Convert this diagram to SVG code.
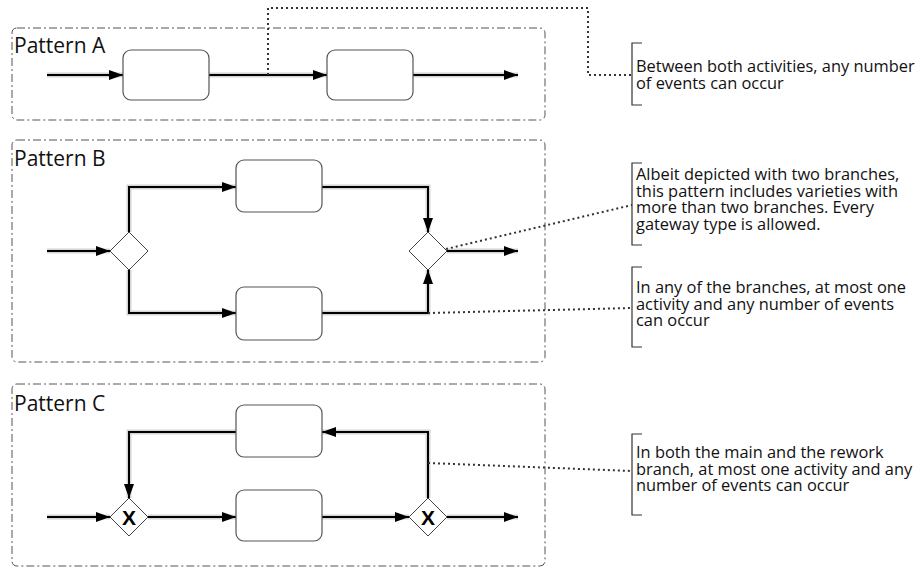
<svg xmlns="http://www.w3.org/2000/svg" width="922" height="570" viewBox="0 0 922 570">
<defs>
<marker id="arr" markerUnits="userSpaceOnUse" markerWidth="16" markerHeight="12" refX="14" refY="5" orient="auto">
<path d="M0,0 L14,5 L0,10 z" fill="#000"/>
</marker>
<style>
.pool{fill:none;stroke:#555;stroke-width:1;stroke-dasharray:8 3 2 3}
.act{fill:#fff;stroke:#555;stroke-width:1.2}
.gw{fill:#fff;stroke:#444;stroke-width:1}
.halo{fill:none;stroke:#d4d4d4;stroke-width:5}
.flow{fill:none;stroke:#000;stroke-width:2;marker-end:url(#arr)}
.dot{fill:none;stroke:#333;stroke-width:2;stroke-dasharray:2 3}
.br{fill:none;stroke:#333;stroke-width:1.2}
.lbl{font-family:"Open Sans","Liberation Sans",sans-serif;font-size:21px;fill:#111}
.note{font-family:"Open Sans","Liberation Sans",sans-serif;font-size:16.4px;fill:#111}
.x{font-family:"Liberation Sans",sans-serif;font-size:21px;font-weight:bold;fill:#000;text-anchor:middle}
</style>
</defs>
<rect width="922" height="570" fill="#fff"/>

<g id="patternA">
<rect class="pool" x="12" y="28" width="533" height="92" rx="5"/>
<text class="lbl" x="14" y="53">Pattern A</text>
</g>
<g id="patternB">
<rect class="pool" x="12" y="140" width="533" height="222" rx="5"/>
<text class="lbl" x="14" y="166">Pattern B</text>
</g>
<g id="patternC">
<rect class="pool" x="12" y="384" width="533" height="182" rx="5"/>
<text class="lbl" x="14" y="411">Pattern C</text>
</g>

<g id="connectors">
<g id="halos">
<path class="halo" d="M47,75 H123 M209,75 H327 M413,75 H518"/>
<path class="halo" d="M47,251 H110 M129,232 V187 H236 M129,270 V313 H236 M322,187 H428 V232 M322,313 H428 V270 M447,251 H518"/>
<path class="halo" d="M47,517 H110 M148,517 H236 M322,517 H409 M447,517 H518 M428,498 V432 H322 M236,432 H129 V498"/>
</g>
<path class="flow" d="M47,75 H123"/>
<path class="flow" d="M209,75 H327"/>
<path class="flow" d="M413,75 H518"/>
<path class="flow" d="M47,251 H110"/>
<path class="flow" d="M129,232 V187 H236"/>
<path class="flow" d="M129,270 V313 H236"/>
<path class="flow" d="M322,187 H428 V232"/>
<path class="flow" d="M322,313 H428 V270"/>
<path class="flow" d="M447,251 H518"/>
<path class="flow" d="M47,517 H110"/>
<path class="flow" d="M148,517 H236"/>
<path class="flow" d="M322,517 H409"/>
<path class="flow" d="M447,517 H518"/>
<path class="flow" d="M428,498 V432 H322"/>
<path class="flow" d="M236,432 H129 V498"/>
<path class="dot" d="M268,75 V8 H588 V75 H632"/>
<path class="dot" d="M446,249 L632,205"/>
<path class="dot" d="M428,313 L632,308"/>
<path class="dot" d="M428,463 L632,471"/>
</g>

<g id="a1"><rect class="act" x="123" y="50" width="86" height="50" rx="8"/></g>
<g id="a2"><rect class="act" x="327" y="50" width="86" height="50" rx="8"/></g>
<g id="b_top"><rect class="act" x="236" y="160" width="86" height="52" rx="8"/></g>
<g id="b_bot"><rect class="act" x="236" y="287" width="86" height="53" rx="8"/></g>
<g id="b_split"><path class="gw" d="M129,232 L148,251 L129,270 L110,251 z"/></g>
<g id="b_merge"><path class="gw" d="M428,232 L447,251 L428,270 L409,251 z"/></g>
<g id="c_top"><rect class="act" x="236" y="405" width="86" height="52" rx="8"/></g>
<g id="c_bot"><rect class="act" x="236" y="490" width="86" height="51" rx="8"/></g>
<g id="c_join"><path class="gw" d="M129,498 L148,517 L129,536 L110,517 z"/><text class="x" x="129" y="525">X</text></g>
<g id="c_split"><path class="gw" d="M428,498 L447,517 L428,536 L409,517 z"/><text class="x" x="428" y="525">X</text></g>

<g id="noteA">
<path class="br" d="M642,43 H632 V105 H642"/>
<text class="note" x="636" y="72">Between both activities, any number<tspan x="636" dy="17">of events can occur</tspan></text>
</g>
<g id="noteB1">
<path class="br" d="M642,163 H632 V245 H642"/>
<text class="note" x="636" y="180">Albeit depicted with two branches,<tspan x="636" dy="16.7">this pattern includes varieties with</tspan><tspan x="636" dy="16.7">more than two branches. Every</tspan><tspan x="636" dy="16.7">gateway type is allowed.</tspan></text>
</g>
<g id="noteB2">
<path class="br" d="M642,267 H632 V347 H642"/>
<text class="note" x="636" y="293">In any of the branches, at most one<tspan x="636" dy="16.7">activity and any number of events</tspan><tspan x="636" dy="16.7">can occur</tspan></text>
</g>
<g id="noteC">
<path class="br" d="M642,434 H632 V515 H642"/>
<text class="note" x="636" y="458">In both the main and the rework<tspan x="636" dy="16.7">branch, at most one activity and any</tspan><tspan x="636" dy="16.7">number of events can occur</tspan></text>
</g>
</svg>
